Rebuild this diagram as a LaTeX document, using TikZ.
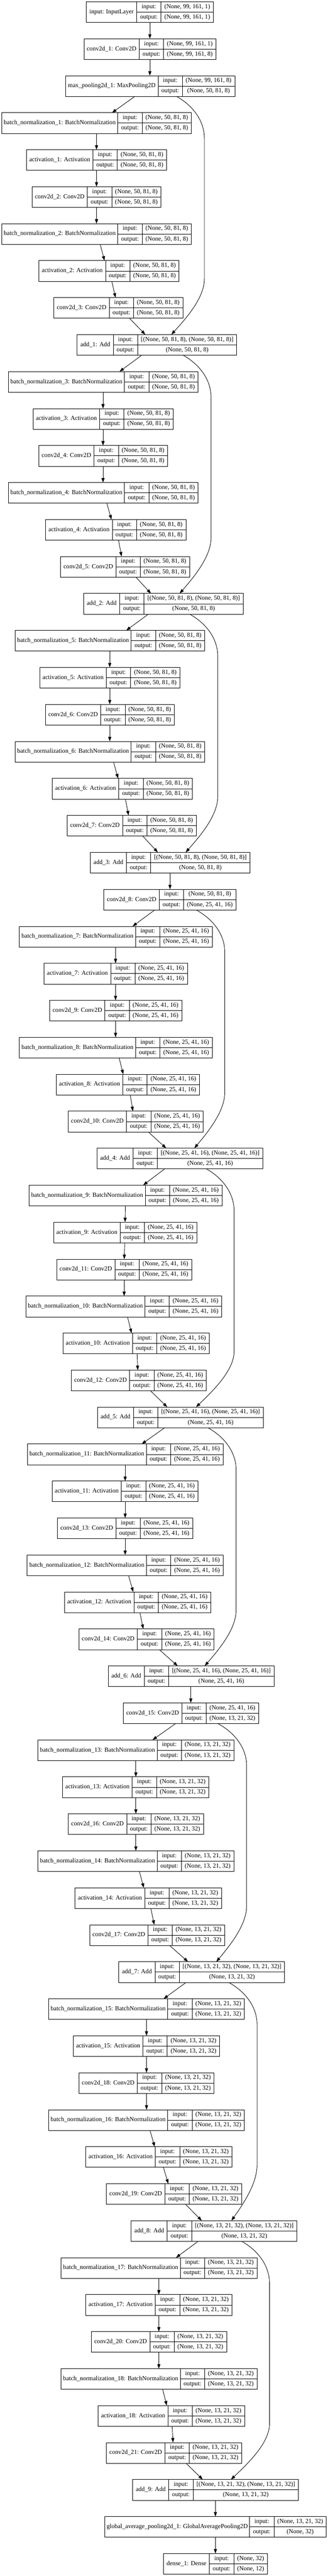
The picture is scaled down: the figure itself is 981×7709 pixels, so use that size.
\documentclass[tikz,border=0pt]{standalone}
\usepackage{fontspec}
\setmainfont{Liberation Serif}
\usetikzlibrary{arrows.meta,calc}
\newdimen\wa\newdimen\wb\newdimen\wc\newdimen\wtmp
\font\gvf="Liberation Serif" at 14pt
\def\shA{(None, 99, 161, 1)}
\def\shB{(None, 99, 161, 8)}
\def\shC{(None, 50, 81, 8)}
\def\shD{(None, 25, 41, 16)}
\def\shE{(None, 13, 21, 32)}
\tikzset{
  rec/.style={draw=black,line width=1pt,inner sep=0pt,outer sep=0pt,minimum height=46.5pt},
  divline/.style={draw=black,line width=1pt},
  txt/.style={inner sep=0pt,outer sep=0pt,font=\gvf,text height=9.6pt,text depth=3.2pt,anchor=center},
  arr/.style={draw=black,line width=1pt,-{Triangle[length=10pt,width=7pt]}},
}
\newcommand\measure[2]{\setbox0=\hbox{\gvf #2}#1=\wd0\relax}
% #1 name, #2 index, #3 centre x (px), #4 label, #5 input, #6 output
\newcommand\layer[6]{%
  \measure\wa{#4}\measure\wb{output:}%
  \measure\wc{#5}\measure\wtmp{#6}%
  \ifdim\wtmp>\wc \wc=\wtmp\fi
  \pgfmathsetmacro\Fa{0.977*\wa/0.75+20.9}%
  \pgfmathsetmacro\Fb{\wb/0.75+20}%
  \pgfmathsetmacro\Fc{\wc/0.75+20}%
  \pgfmathsetmacro\Wt{\Fa+\Fb+\Fc}%
  \pgfmathsetmacro\Lx{#3-\Wt/2}%
  \pgfmathsetmacro\Ty{5.3+110.67*(#2-1)}%
  \pgfmathsetmacro\Ax{\Lx+\Fa}%
  \pgfmathsetmacro\Bx{\Ax+\Fb}%
  \pgfmathsetmacro\Rx{\Lx+\Wt}%
  \pgfmathsetmacro\By{\Ty+62}%
  \pgfmathsetmacro\My{\Ty+31}%
  \pgfmathsetmacro\Iy{\Ty+15.5}%
  \pgfmathsetmacro\Oy{\Ty+46.5}%
  \pgfmathsetmacro\Wpt{\Wt*0.75}%
  \node[rec,minimum width=\Wpt pt,anchor=north west] (#1) at (\Lx,\Ty) {};
  \draw[divline] (\Ax,\Ty) -- (\Ax,\By) (\Bx,\Ty) -- (\Bx,\By) (\Ax,\My) -- (\Rx,\My);
  \node[txt] (#1-l) at ({(\Lx+\Ax)/2},\My) {#4};
  \node[txt] (#1-i) at ({(\Ax+\Bx)/2},\Iy) {input:};
  \node[txt] (#1-o) at ({(\Ax+\Bx)/2},\Oy) {output:};
  \node[txt] (#1-is) at ({(\Bx+\Rx)/2},\Iy) {#5};
  \node[txt] (#1-os) at ({(\Bx+\Rx)/2},\Oy) {#6};
}
\newcommand\conn[4]{\draw[arr] (#1.south -| #3,0) -- (#2.north -| #4,0);}
\newcommand\skipconn[5]{\draw[arr] (#1.south -| #3,0)
  .. controls +({0.56*(#4-#3)},26) and +(0,-55) .. ++({#4-#3},126)
  -- ($(#2.north -| #4,0)+(0,-167)$)
  .. controls +(0,56) and +({0.47*(#4-#5)},-51) .. (#2.north -| #5,0);}
\begin{document}
\begin{tikzpicture}[x=0.75pt,y=-0.75pt]
\fill[white] (0,0) rectangle (981,7709);
\useasboundingbox (0,0) rectangle (981,7709);
\layer{n1}{1}{449}{input: InputLayer}{\shA}{\shA}
\layer{n2}{2}{449}{conv2d\_1: Conv2D}{\shA}{\shB}
\layer{n3}{3}{449.5}{max\_pooling2d\_1: MaxPooling2D}{\shB}{\shC}
\layer{n4}{4}{289}{batch\_normalization\_1: BatchNormalization}{\shC}{\shC}
\layer{n5}{5}{289}{activation\_1: Activation}{\shC}{\shC}
\layer{n6}{6}{289}{conv2d\_2: Conv2D}{\shC}{\shC}
\layer{n7}{7}{289}{batch\_normalization\_2: BatchNormalization}{\shC}{\shC}
\layer{n8}{8}{326.6}{activation\_2: Activation}{\shC}{\shC}
\layer{n9}{9}{354.5}{conv2d\_3: Conv2D}{\shC}{\shC}
\layer{n10}{10}{470}{add\_1: Add}{[\shC, \shC]}{\shC}
\layer{n11}{11}{309}{batch\_normalization\_3: BatchNormalization}{\shC}{\shC}
\layer{n12}{12}{309}{activation\_3: Activation}{\shC}{\shC}
\layer{n13}{13}{309}{conv2d\_4: Conv2D}{\shC}{\shC}
\layer{n14}{14}{309}{batch\_normalization\_4: BatchNormalization}{\shC}{\shC}
\layer{n15}{15}{346.7}{activation\_4: Activation}{\shC}{\shC}
\layer{n16}{16}{374.5}{conv2d\_5: Conv2D}{\shC}{\shC}
\layer{n17}{17}{489.4}{add\_2: Add}{[\shC, \shC]}{\shC}
\layer{n18}{18}{329}{batch\_normalization\_5: BatchNormalization}{\shC}{\shC}
\layer{n19}{19}{329}{activation\_5: Activation}{\shC}{\shC}
\layer{n20}{20}{329}{conv2d\_6: Conv2D}{\shC}{\shC}
\layer{n21}{21}{329}{batch\_normalization\_6: BatchNormalization}{\shC}{\shC}
\layer{n22}{22}{366.6}{activation\_6: Activation}{\shC}{\shC}
\layer{n23}{23}{394.5}{conv2d\_7: Conv2D}{\shC}{\shC}
\layer{n24}{24}{509.5}{add\_3: Add}{[\shC, \shC]}{\shC}
\layer{n25}{25}{509}{conv2d\_8: Conv2D}{\shC}{\shD}
\layer{n26}{26}{346.8}{batch\_normalization\_7: BatchNormalization}{\shD}{\shD}
\layer{n27}{27}{346.7}{activation\_7: Activation}{\shD}{\shD}
\layer{n28}{28}{346.4}{conv2d\_9: Conv2D}{\shD}{\shD}
\layer{n29}{29}{346.8}{batch\_normalization\_8: BatchNormalization}{\shD}{\shD}
\layer{n30}{30}{383}{activation\_8: Activation}{\shD}{\shD}
\layer{n31}{31}{406.4}{conv2d\_10: Conv2D}{\shD}{\shD}
\layer{n32}{32}{538.8}{add\_4: Add}{[\shD, \shD]}{\shD}
\layer{n33}{33}{375.8}{batch\_normalization\_9: BatchNormalization}{\shD}{\shD}
\layer{n34}{34}{374.9}{activation\_9: Activation}{\shD}{\shD}
\layer{n35}{35}{371.8}{conv2d\_11: Conv2D}{\shD}{\shD}
\layer{n36}{36}{370.5}{batch\_normalization\_10: BatchNormalization}{\shD}{\shD}
\layer{n37}{37}{407.6}{activation\_10: Activation}{\shD}{\shD}
\layer{n38}{38}{415.8}{conv2d\_12: Conv2D}{\shD}{\shD}
\layer{n39}{39}{540}{add\_5: Add}{[\shD, \shD]}{\shD}
\layer{n40}{40}{374.9}{batch\_normalization\_11: BatchNormalization}{\shD}{\shD}
\layer{n41}{41}{374.5}{activation\_11: Activation}{\shD}{\shD}
\layer{n42}{42}{374.5}{conv2d\_13: Conv2D}{\shD}{\shD}
\layer{n43}{43}{374.9}{batch\_normalization\_12: BatchNormalization}{\shD}{\shD}
\layer{n44}{44}{412}{activation\_12: Activation}{\shD}{\shD}
\layer{n45}{45}{438.8}{conv2d\_14: Conv2D}{\shD}{\shD}
\layer{n46}{46}{572.3}{add\_6: Add}{[\shD, \shD]}{\shD}
\layer{n47}{47}{572}{conv2d\_15: Conv2D}{\shD}{\shE}
\layer{n48}{48}{406.8}{batch\_normalization\_13: BatchNormalization}{\shE}{\shE}
\layer{n49}{49}{406.5}{activation\_13: Activation}{\shE}{\shE}
\layer{n50}{50}{406.8}{conv2d\_16: Conv2D}{\shE}{\shE}
\layer{n51}{51}{406.8}{batch\_normalization\_14: BatchNormalization}{\shE}{\shE}
\layer{n52}{52}{444}{activation\_14: Activation}{\shE}{\shE}
\layer{n53}{53}{470.6}{conv2d\_17: Conv2D}{\shE}{\shE}
\layer{n54}{54}{604.2}{add\_7: Add}{[\shE, \shE]}{\shE}
\layer{n55}{55}{438.7}{batch\_normalization\_15: BatchNormalization}{\shE}{\shE}
\layer{n56}{56}{438.7}{activation\_15: Activation}{\shE}{\shE}
\layer{n57}{57}{438.7}{conv2d\_18: Conv2D}{\shE}{\shE}
\layer{n58}{58}{438.7}{batch\_normalization\_16: BatchNormalization}{\shE}{\shE}
\layer{n59}{59}{475.9}{activation\_16: Activation}{\shE}{\shE}
\layer{n60}{60}{521.3}{conv2d\_19: Conv2D}{\shE}{\shE}
\layer{n61}{61}{641}{add\_8: Add}{[\shE, \shE]}{\shE}
\layer{n62}{62}{476.2}{batch\_normalization\_17: BatchNormalization}{\shE}{\shE}
\layer{n63}{63}{475.9}{activation\_17: Activation}{\shE}{\shE}
\layer{n64}{64}{476}{conv2d\_20: Conv2D}{\shE}{\shE}
\layer{n65}{65}{476.2}{batch\_normalization\_18: BatchNormalization}{\shE}{\shE}
\layer{n66}{66}{513.4}{activation\_18: Activation}{\shE}{\shE}
\layer{n67}{67}{521.3}{conv2d\_21: Conv2D}{\shE}{\shE}
\layer{n68}{68}{645.5}{add\_9: Add}{[\shE, \shE]}{\shE}
\layer{n69}{69}{645.5}{global\_average\_pooling2d\_1: GlobalAveragePooling2D}{\shE}{(None, 32)}
\layer{n70}{70}{645.3}{dense\_1: Dense}{(None, 32)}{(None, 12)}
% main chain
\conn{n1}{n2}{448.7}{448.7}
\conn{n2}{n3}{448.7}{448.7}
\conn{n3}{n4}{403.6}{335.5}
\conn{n4}{n5}{289}{289}
\conn{n5}{n6}{289}{289}
\conn{n6}{n7}{289}{289}
\conn{n7}{n8}{300}{313}
\conn{n8}{n9}{334.8}{346}
\conn{n9}{n10}{388}{435}
\conn{n10}{n11}{424}{358}
\conn{n11}{n12}{308.5}{308.5}
\conn{n12}{n13}{308.5}{308.5}
\conn{n13}{n14}{308.5}{308.5}
\conn{n14}{n15}{320}{333.6}
\conn{n15}{n16}{355}{364}
\conn{n16}{n17}{407}{452}
\conn{n17}{n18}{444}{378}
\conn{n18}{n19}{328.6}{328.6}
\conn{n19}{n20}{328.6}{328.6}
\conn{n20}{n21}{328.6}{328.6}
\conn{n21}{n22}{340}{353.6}
\conn{n22}{n23}{375.5}{385}
\conn{n23}{n24}{427.4}{472.5}
\conn{n24}{n25}{509}{509}
\conn{n25}{n26}{463}{397}
\conn{n26}{n27}{346}{346}
\conn{n27}{n28}{346}{346}
\conn{n28}{n29}{346}{346}
\conn{n29}{n30}{356.7}{369}
\conn{n30}{n31}{390}{398}
\conn{n31}{n32}{444}{497.5}
\conn{n32}{n33}{493}{428.7}
\conn{n33}{n34}{375.5}{374.5}
\conn{n34}{n35}{373.6}{372}
\conn{n35}{n36}{371.7}{371.7}
\conn{n36}{n37}{381.7}{394}
\conn{n37}{n38}{410.5}{412.4}
\conn{n38}{n39}{450.6}{500.6}
\conn{n39}{n40}{493}{424.3}
\conn{n40}{n41}{374.8}{374.8}
\conn{n41}{n42}{374.8}{374.8}
\conn{n42}{n43}{374.8}{374.8}
\conn{n43}{n44}{385}{399}
\conn{n44}{n45}{419}{429}
\conn{n45}{n46}{477}{532}
\conn{n46}{n47}{571.3}{571.3}
\conn{n47}{n48}{525.6}{456.8}
\conn{n48}{n49}{406.8}{406.8}
\conn{n49}{n50}{406.8}{406.8}
\conn{n50}{n51}{406.8}{406.8}
\conn{n51}{n52}{417.4}{430.5}
\conn{n52}{n53}{451.8}{461.8}
\conn{n53}{n54}{508}{563}
\conn{n54}{n55}{557}{490}
\conn{n55}{n56}{438.7}{438.7}
\conn{n56}{n57}{438.7}{438.7}
\conn{n57}{n58}{438.7}{438.7}
\conn{n58}{n59}{449.3}{463}
\conn{n59}{n60}{489.4}{503.8}
\conn{n60}{n61}{555.7}{604}
\conn{n61}{n62}{593}{527}
\conn{n62}{n63}{475.6}{475.6}
\conn{n63}{n64}{475.6}{475.6}
\conn{n64}{n65}{475.6}{475.6}
\conn{n65}{n66}{487}{499.4}
\conn{n66}{n67}{515.6}{518}
\conn{n67}{n68}{557}{607}
\conn{n68}{n69}{645}{645}
\conn{n69}{n70}{645}{645}
% skip connections
\skipconn{n3}{n10}{528.8}{612}{513}
\skipconn{n10}{n17}{548.8}{632}{538}
\skipconn{n17}{n24}{568}{652}{556}
\skipconn{n25}{n32}{588}{673}{582}
\skipconn{n32}{n39}{618}{701}{587}
\skipconn{n39}{n46}{622.7}{707}{613}
\skipconn{n47}{n54}{652.7}{738.4}{647.7}
\skipconn{n54}{n61}{685}{769.7}{693}
\skipconn{n61}{n68}{724}{807}{691.5}
\end{tikzpicture}
\end{document}
